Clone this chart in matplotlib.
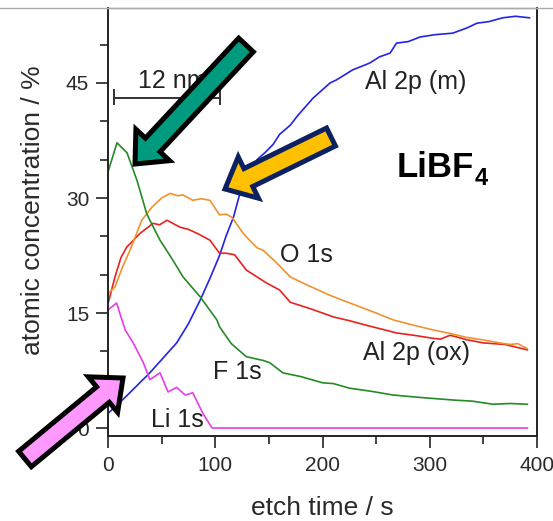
import matplotlib
matplotlib.use("Agg")
import matplotlib.pyplot as plt
from matplotlib.patches import FancyArrow
from matplotlib.lines import Line2D

plt.rcParams['font.family'] = ['Liberation Sans', 'DejaVu Sans']

# ---- data ----
t_f = [0, 8.4, 17.7, 27, 36, 39, 48.5, 60, 70, 86, 101.5, 104, 115, 129, 145, 151, 163, 180,
       200, 210, 225, 245, 266, 290, 322, 340, 359, 375, 391]
f_1s = [33.4, 37.2, 35.9, 32.3, 28, 27.1, 24.5, 22, 19.7, 17.1, 14.1, 13.2, 11.0, 9.3, 8.8, 8.5,
        7.2, 6.7, 5.9, 5.8, 5.2, 4.8, 4.3, 4.0, 3.65, 3.5, 3.1, 3.2, 3.1]

t_o = [0, 6.5, 13, 20.5, 31.5, 41, 50, 58, 65, 70, 79, 87, 95, 104, 110, 115.5, 126, 132, 139,
       144.5, 157.5, 170, 185, 207, 220, 235, 250, 266, 285, 303, 320, 335, 349.5, 365, 375, 382, 390.5]
o_1s = [17.5, 18.4, 20.8, 23.2, 27.1, 28.8, 30.0, 30.6, 30.3, 30.4, 29.7, 29.9, 29.7, 27.8, 27.9,
        27.5, 25.4, 24.5, 23.5, 23.2, 21.5, 19.7, 18.7, 17.3, 16.6, 15.8, 15.0, 14.1, 13.4, 12.8,
        12.3, 11.8, 11.5, 11.1, 10.9, 11.0, 10.4]

t_ox = [0, 6.5, 12, 17.5, 30, 42, 48, 55, 67, 75, 83, 95, 104, 110, 118, 129, 139, 148, 160, 170,
        190, 210, 225, 241, 255, 269, 285, 303, 310, 319, 335, 350, 370, 391]
al_ox = [16.2, 19.7, 22.2, 23.6, 25.4, 26.7, 26.5, 27.1, 26.2, 25.9, 25.4, 24.5, 22.8, 22.8, 22.6,
         20.6, 19.7, 18.9, 18.0, 16.4, 15.5, 14.5, 14.0, 13.4, 12.9, 12.4, 12.1, 11.7, 11.6, 12.1,
         11.5, 11.1, 10.9, 10.2]

t_m = [0, 16, 39, 64, 75, 86, 95, 104, 110, 117, 123, 132, 139, 147, 154, 160, 170, 176, 191, 207,
       213, 228, 244, 253, 263, 269, 280, 291, 305, 321.5, 335, 344, 355, 368, 380, 393]
al_m = [1.9, 4.0, 7.2, 11.1, 13.6, 16.7, 19.5, 22.5, 25.0, 27.5, 30.6, 33.3, 35.0, 36.0, 37.0, 38.3,
        39.5, 40.6, 43.0, 45.0, 45.4, 46.7, 47.6, 48.4, 48.9, 50.2, 50.4, 51.0, 51.3, 51.5, 52.2,
        52.8, 53.0, 53.5, 53.7, 53.5]

t_li = [0, 8, 16, 23.5, 33, 39, 48.5, 56, 64, 72, 79, 88.5, 97, 391]
li_1s = [15.4, 16.3, 12.8, 11.1, 8.5, 6.3, 7.2, 4.7, 5.3, 4.3, 4.6, 1.9, 0, 0]

x_ticks = [0, 100, 200, 300, 400]
y_ticks = [0, 15, 30, 45]

# ---- figure ----
W, H = 553, 521
fig = plt.figure(figsize=(W / 100, H / 100), dpi=100)
fig.patch.set_facecolor('white')
ax = fig.add_axes([108 / W, 1 - 436 / H, 429 / W, 428 / H])

lw = 1.2
ax.plot(t_m, al_m, color='#2323e6', lw=lw)
ax.plot(t_ox, al_ox, color='#e6231e', lw=lw)
ax.plot(t_o, o_1s, color='#f0932e', lw=lw)
ax.plot(t_f, f_1s, color='#268a26', lw=lw)
ax.plot(t_li, li_1s, color='#e83ce8', lw=lw, clip_on=False)

ax.set_xlim(0, 400)
ax.set_ylim(-1.04, 54.78)
ax.set_xticks(x_ticks)
ax.set_xticks([50, 150, 250, 350], minor=True)
ax.set_yticks(y_ticks)
ax.set_yticks([5, 10, 20, 25, 35, 40, 50], minor=True)
ax.tick_params(which='major', direction='out', length=8.5, width=1.2, labelsize=15,
               color='#222222', labelcolor='#2a2a2a', pad=5)
ax.tick_params(which='minor', direction='out', length=5.5, width=1.2, color='#222222')
ax.tick_params(axis='x', which='major', pad=6)

for s in ['left', 'bottom', 'right']:
    ax.spines[s].set_color('#222222')
    ax.spines[s].set_linewidth(1.4)
ax.spines['top'].set_color('#aaaaaa')
ax.spines['top'].set_linewidth(1.0)

ax.set_xlabel('etch time / s', fontsize=19, color='#2a2a2a', va='center', ha='center')
ax.xaxis.set_label_coords(0.499, -0.168)
ax.set_ylabel('atomic concentration / %', fontsize=19, color='#2a2a2a', va='center', ha='center')
ax.yaxis.set_label_coords(-0.175, 0.528)

# top border line of the picture
fig.add_artist(Line2D([0, 1], [1 - 8 / H, 1 - 8 / H], color='#aaaaaa', lw=1.0,
                      transform=fig.transFigure))

# annotations
tc = '#222222'
ax.text(287, 45.1, 'Al 2p (m)', fontsize=18, ha='center', va='center', color=tc)
ax.text(185, 22.6, 'O 1s', fontsize=18, ha='center', va='center', color=tc)
ax.text(288, 9.8, 'Al 2p (ox)', fontsize=18, ha='center', va='center', color=tc)
ax.text(121, 7.3, 'F 1s', fontsize=18, ha='center', va='center', color=tc)
ax.text(64.5, 1.0, 'Li 1s', fontsize=18, ha='center', va='center', color=tc)
ax.text(269.5, 32.7, 'LiBF', fontsize=25, fontweight='bold', ha='left', va='baseline', color='black')
ax.text(342, 31.7, '4', fontsize=17, fontweight='bold', ha='left', va='baseline', color='black')

# scale bar "12 nm"
ax.plot([5.5, 104.5], [43, 43], color='#333333', lw=1.4)
ax.plot([5.5, 5.5], [42.3, 44.1], color='#333333', lw=1.4)
ax.plot([104.5, 104.5], [42.3, 44.1], color='#333333', lw=1.4)
ax.text(28, 45.2, '12 nm', fontsize=18, ha='left', va='center', color=tc)

# overlay for block arrows (pixel coordinates)
ov = fig.add_axes([0, 0, 1, 1], zorder=10)
ov.set_xlim(0, W)
ov.set_ylim(H, 0)
ov.axis('off')
ov.patch.set_alpha(0)


def block_arrow(tail, tip, fc, ec, width=20, hw=46, hl=26, elw=3.6):
    dx, dy = tip[0] - tail[0], tip[1] - tail[1]
    a = FancyArrow(tail[0], tail[1], dx, dy, width=width, head_width=hw, head_length=hl,
                   length_includes_head=True, fc=fc, ec=ec, lw=elw, joinstyle='miter')
    ov.add_patch(a)


block_arrow((246, 45), (135, 164), '#009a7e', 'black')
block_arrow((331, 137), (225, 189), '#ffc000', '#0c2160')
block_arrow((25, 459), (123, 378), '#ff99ff', 'black')

fig.savefig('out.png', dpi=100)
